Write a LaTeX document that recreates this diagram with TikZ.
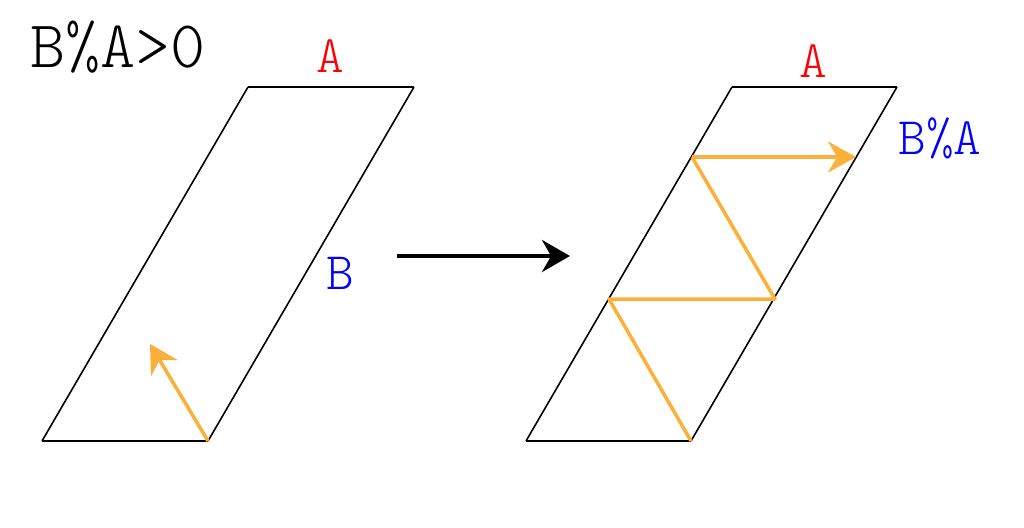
\documentclass[tikz,border=0pt]{standalone}
\usepackage{tikz}
\usetikzlibrary{arrows.meta}
\definecolor{zig}{RGB}{251,176,59}

\begin{document}
\begin{tikzpicture}
  [side/.style={draw=black,line width=0.45pt},
   zigzag/.style={draw=zig,line width=1pt,line join=round},
   tip/.style={-{Stealth[length=2.8mm,width=3.1mm]}},
   lbl/.style={font=\ttfamily\fontseries{l}\fontsize{15}{16}\selectfont,anchor=base,inner sep=0pt}]
  \useasboundingbox (0,0) rectangle (10.24,5.27);

  % left parallelogram
  \coordinate (p1) at (0.42,0.86);
  \coordinate (p2) at (2.08,0.86);
  \coordinate (p3) at (4.14,4.40);
  \coordinate (p4) at (2.48,4.40);
  \coordinate (v)  at (1.50,1.83);

  % right parallelogram
  \coordinate (q1) at (5.26,0.86);
  \coordinate (q2) at (6.91,0.86);
  \coordinate (q3) at (8.97,4.40);
  \coordinate (q4) at (7.32,4.40);
  \coordinate (z1) at (6.09,2.28);
  \coordinate (z2) at (7.75,2.28);
  \coordinate (z3) at (6.92,3.70);
  \coordinate (z4) at (8.56,3.70);

  \coordinate (s) at (3.97,2.71);
  \coordinate (t) at (5.70,2.71);

  \foreach \from/\to in {p1/p2,p2/p3,p3/p4,p4/p1,q1/q2,q2/q3,q3/q4,q4/q1}
    \draw[side] (\from) -- (\to);

  \draw[zigzag,tip] (p2) -- (v);
  \draw[zigzag] (q2) -- (z1) -- (z2) -- (z3);
  \draw[zigzag,tip] (z3) -- (z4);
  \draw[line width=1.1pt,-{Stealth[length=2.8mm,width=3.2mm]}] (s) -- (t);

  \node[lbl,font=\ttfamily\fontseries{l}\fontsize{19}{21}\selectfont] (rule) at (1.18,4.60) {B\%A>0};
  \node[lbl,red] (a1) at (3.30,4.55) {A};
  \node[lbl,blue] (b1) at (3.40,2.38) {B};
  \node[lbl,red] (a2) at (8.13,4.50) {A};
  \node[lbl,blue] (r2) at (9.40,3.73) {B\%A};
\end{tikzpicture}
\end{document}
